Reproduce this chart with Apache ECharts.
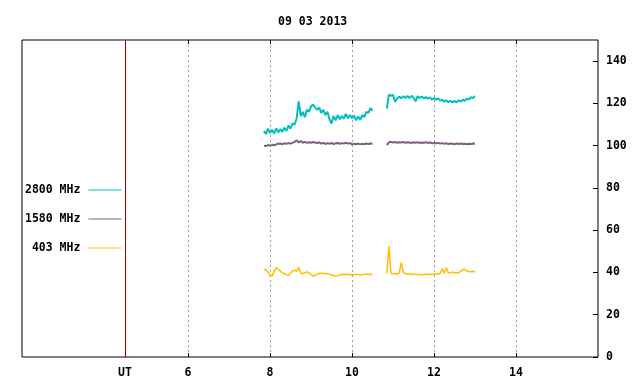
<!DOCTYPE html>
<html lang="en">
<head>
    <meta charset="UTF-8">
    <title>09 03 2013</title>
    <script src="https://cdn.jsdelivr.net/npm/echarts@6/dist/echarts.min.js"></script>
    <style>
        html, body { margin: 0; padding: 0; background: #fff; }
    </style>
</head>
<body>
<div id="chartmain" style="width:640px; height:384px;"></div>
<script type="text/javascript">

    // hours UT, before and after the gap
    var hoursA = [7.85, 7.90, 7.95, 8.00, 8.05, 8.10, 8.15, 8.20, 8.25, 8.30,
        8.35, 8.40, 8.45, 8.50, 8.55, 8.60, 8.65, 8.70, 8.75, 8.80,
        8.85, 8.90, 8.95, 9.00, 9.05, 9.10, 9.15, 9.20, 9.25, 9.30,
        9.35, 9.40, 9.45, 9.50, 9.55, 9.60, 9.65, 9.70, 9.75, 9.80,
        9.85, 9.90, 9.95, 10.00, 10.05, 10.10, 10.15, 10.20, 10.25, 10.30,
        10.35, 10.40, 10.45, 10.50];
    var hoursB = [10.85, 10.90, 10.95, 11.00, 11.05, 11.10, 11.15, 11.20, 11.25, 11.30,
        11.35, 11.40, 11.45, 11.50, 11.55, 11.60, 11.65, 11.70, 11.75, 11.80,
        11.85, 11.90, 11.95, 12.00, 12.05, 12.10, 12.15, 12.20, 12.25, 12.30,
        12.35, 12.40, 12.45, 12.50, 12.55, 12.60, 12.65, 12.70, 12.75, 12.80,
        12.85, 12.90, 12.95, 13.00];
    var gapHour = 10.70;

    // 2800 MHz
    var f2800A = [107, 105.5, 108, 106, 107.5, 105.8, 108.2, 106.3, 107.8, 106.5,
        108.5, 107, 109.5, 108, 110.5, 110, 113, 121, 114, 116,
        113.5, 117, 116, 118.5, 119.5, 118, 117, 118, 115.5, 117,
        114.5, 116, 112.5, 110.5, 114, 112, 114.5, 112.5, 114, 112.8,
        115, 113, 114.5, 113, 114.2, 112, 113.8, 112.2, 114.5, 113.5,
        116, 115.5, 117.8, 116.5];
    var f2800B = [117.5, 124.2, 123.6, 124, 120.8, 122.3, 123.2, 122.4, 123.4, 122.6,
        123.5, 122.5, 123.6, 122.7, 121, 123.4, 122.6, 123.2, 122.4, 123,
        122.2, 122.8, 121.8, 122.6, 121.7, 122.4, 121.3, 121.8, 120.8, 121.4,
        120.5, 121.3, 120.4, 121.2, 120.5, 121.4, 120.8, 121.8, 121.2, 122.3,
        121.8, 123, 122.5, 123.5];

    // 1580 MHz
    var f1580A = [100, 99.8, 100.3, 100, 100.4, 100.2, 100.6, 100.9, 101, 100.7,
        101.1, 100.9, 101.2, 101, 101.3, 101.8, 102.5, 101.5, 102.2, 101.4,
        101.8, 101.3, 101.6, 101.4, 101.7, 101.5, 101.2, 101.6, 101, 101.3,
        100.8, 101.2, 100.9, 101.3, 100.7, 101.1, 101.3, 100.9, 101.2, 101,
        101.4, 101, 101.2, 100.6, 100.9, 100.7, 101, 100.6, 100.9, 100.7,
        101, 100.8, 101, 100.9];
    var f1580B = [100.3, 101.6, 101.8, 101.5, 101.7, 101.4, 101.6, 101.5, 101.7, 101.4,
        101.6, 101.5, 101.3, 101.6, 101.4, 101.6, 101.3, 101.5, 101.4, 101.6,
        101.3, 101.5, 101.2, 101.3, 101.1, 101.3, 101, 101.2, 100.9, 101.1,
        100.8, 101, 100.9, 100.7, 101, 100.8, 101, 100.8, 100.9, 100.7,
        100.9, 100.8, 101, 100.9];

    // 403 MHz
    var f403A = [41.5, 41.2, 40.2, 38.8, 38.4, 40.5, 42.3, 41.6, 40.6, 39.8,
        39.5, 39, 38.6, 39.6, 40.8, 41, 40.6, 42.5, 39.6, 39.5,
        39.9, 40.2, 39.8, 39, 38.3, 38.6, 39.2, 39.5, 39.6, 39.7,
        39.4, 39.5, 39.1, 38.8, 38.6, 38.3, 38.5, 38.8, 39, 39.1,
        39, 39.2, 39, 38.8, 39.1, 38.9, 39.1, 38.8, 39, 39.2,
        39.1, 39, 39.1, 39];
    var f403B = [39.5, 52.5, 39.6, 39.4, 39.5, 39.3, 39.6, 44.8, 39.8, 39.6,
        39.2, 39.4, 39, 39.2, 39.1, 38.9, 39.2, 38.8, 39, 39.2,
        38.9, 39.3, 39, 39.2, 39.4, 39.2, 39.5, 41.8, 39.6, 42.3,
        39.7, 39.9, 40.2, 39.8, 40, 39.8, 40.6, 41.3, 41.5, 40.8,
        40.3, 40.5, 40.6, 40.2];

    var names = ['2800 MHz', '1580 MHz', '403 MHz'];
    var legendLabels = ['2800 MHz', '1580 MHz', ' 403 MHz'];
    var colors = ['#00bfbf', '#806080', '#ffbf00'];
    var widths = [2, 2, 1.5];
    var xTicks = [6, 8, 10, 12, 14];
    var utHour = 4.46;
    var yTicks = [0, 20, 40, 60, 80, 100, 120, 140];

    var FONT = 'DejaVu Sans Mono';

    function pairs(a, b) {
        var out = [];
        for (var i = 0; i < hoursA.length; i++) out.push([hoursA[i], a[i]]);
        out.push([gapHour, null]);
        for (var j = 0; j < hoursB.length; j++) out.push([hoursB[j], b[j]]);
        return out;
    }

    var seriesData = [pairs(f2800A, f2800B), pairs(f1580A, f1580B), pairs(f403A, f403B)];

    var series = [];
    for (var k = 0; k < names.length; k++) {
        series.push({
            name: names[k],
            type: 'line',
            data: seriesData[k],
            showSymbol: false,
            symbol: 'none',
            connectNulls: false,
            animation: false,
            lineStyle: { color: colors[k], width: widths[k] },
            itemStyle: { color: colors[k] }
        });
    }
    // UT marker line
    series.push({
        name: 'ut',
        type: 'line',
        data: [],
        markLine: {
            silent: true,
            symbol: 'none',
            animation: false,
            label: { show: false },
            lineStyle: { color: '#900000', type: 'solid', width: 1 },
            data: [{ xAxis: utHour }]
        }
    });

    var option = {
        animation: false,
        backgroundColor: '#fff',
        title: {
            text: '09 03 2013',
            left: 273,
            top: 11,
            textStyle: { fontFamily: FONT, fontSize: 11.5, fontWeight: 'bold', color: '#000' }
        },
        legend: {
            data: names,
            orient: 'vertical',
            left: 20,
            top: 178,
            align: 'right',
            itemWidth: 33,
            itemHeight: 1,
            itemGap: 15,
            icon: 'rect',
            selectedMode: false,
            formatter: function (n) { return legendLabels[names.indexOf(n)]; },
            textStyle: { fontFamily: FONT, fontSize: 11.5, fontWeight: 'bold', color: '#000', lineHeight: 14, padding: [0, 3, 0, 0] }
        },
        grid: {
            left: 22, right: 42, top: 40, bottom: 27,
            show: true, borderColor: '#000', borderWidth: 1
        },
        xAxis: [{
            type: 'value',
            min: 1.95, max: 16,
            position: 'bottom',
            axisLine: { show: false },
            axisTick: { show: true, inside: true, length: 4, customValues: xTicks, lineStyle: { color: '#000' } },
            axisLabel: {
                customValues: [utHour].concat(xTicks),
                margin: 10,
                formatter: function (v) { return Math.abs(v - utHour) < 0.01 ? 'UT' : String(v); },
                fontFamily: FONT, fontSize: 11.5, fontWeight: 'bold', color: '#000'
            },
            splitLine: { show: true, lineStyle: { color: '#a0a0a0', type: [2, 3], width: 1 } }
        }, {
            type: 'value',
            min: 1.95, max: 16,
            position: 'top',
            axisLine: { show: false },
            axisTick: { show: true, inside: true, length: 4, customValues: xTicks, lineStyle: { color: '#000' } },
            axisLabel: { show: false },
            splitLine: { show: false }
        }],
        yAxis: {
            type: 'value',
            min: 0, max: 150, interval: 20,
            position: 'right',
            axisLine: { show: false },
            axisTick: { show: true, inside: true, length: 5, customValues: yTicks, lineStyle: { color: '#000' } },
            axisLabel: {
                customValues: yTicks,
                margin: 8,
                fontFamily: FONT, fontSize: 11.5, fontWeight: 'bold', color: '#000'
            },
            splitLine: { show: false }
        },
        series: series
    };

    var myChart = echarts.init(document.getElementById('chartmain'));
    myChart.setOption(option);
</script>
</body>
</html>
